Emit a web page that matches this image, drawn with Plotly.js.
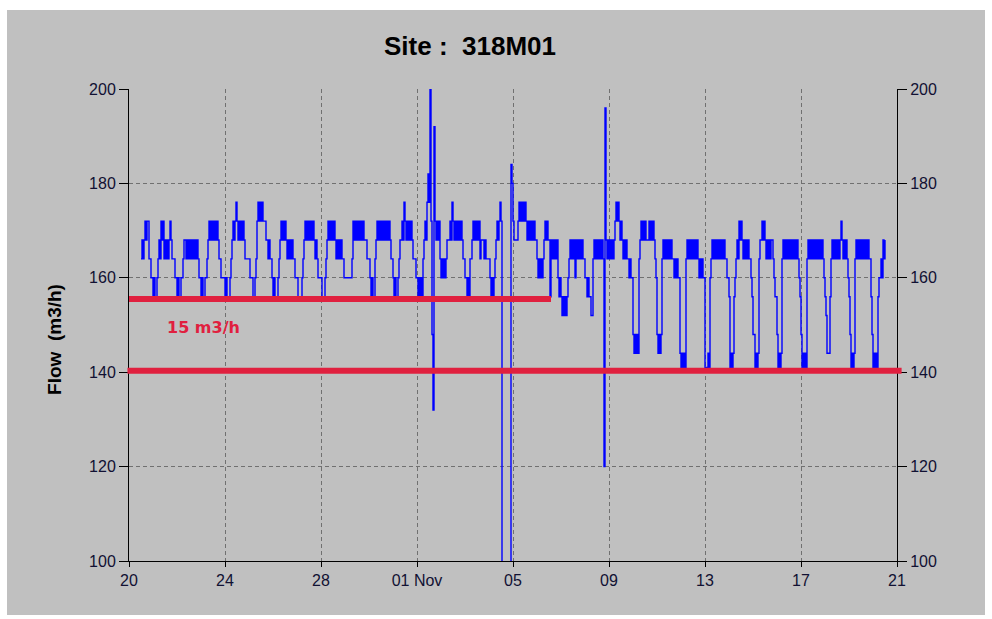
<!DOCTYPE html>
<html><head><meta charset="utf-8">
<script src="https://cdn.plot.ly/plotly-3.0.1.min.js"></script>
<style>
html,body{margin:0;padding:0;background:#fff;width:992px;height:619px;overflow:hidden}
#chart{position:absolute;left:7px;top:10px;width:978px;height:605px}
</style></head><body><div id="chart"></div>
<script>
// hourly flow readings (m3/h), first value at 20 Oct 12:00, one row per day
const seriesStart = '2014-10-20T12:00:00Z';
const flow = [
164,168,164,168,172,168,172,172,164,164,160,160,
156,160,156,156,160,164,168,164,172,168,172,164,168,164,168,164,168,172,168,164,164,164,160,160,
156,160,156,156,160,160,164,168,168,164,168,164,168,164,168,164,168,164,168,164,168,164,160,160,
156,160,156,156,160,160,164,168,172,168,172,168,172,168,172,168,172,168,164,164,160,160,160,160,
156,160,156,156,156,160,164,168,172,168,172,176,172,168,172,168,172,168,172,168,164,164,164,164,
164,160,160,160,156,156,160,164,172,176,172,176,172,176,172,172,172,168,168,164,168,164,164,160,
156,160,156,156,156,160,164,168,172,168,172,168,172,168,164,168,164,168,164,168,164,164,160,160,
160,156,156,156,156,160,164,168,172,168,172,168,172,168,172,168,172,168,164,168,164,160,160,160,
160,156,156,156,160,164,168,172,168,172,168,172,168,172,168,164,168,164,168,164,168,164,164,160,
160,160,160,160,160,160,160,164,172,168,172,168,172,168,172,168,172,168,172,168,168,168,164,164,
164,160,156,160,156,156,164,168,172,168,172,168,172,168,172,168,172,168,172,168,172,168,164,164,
160,156,160,156,156,160,164,168,168,172,168,176,172,168,172,168,172,168,172,168,164,164,164,160,
160,156,160,156,160,156,164,168,172,168,176,182,176,204,172,148,132,192,172,168,172,168,172,164,
160,164,160,164,160,164,168,168,168,172,168,176,172,168,172,168,172,168,172,168,172,168,164,164,
160,160,156,160,156,164,164,168,172,168,172,168,172,168,172,164,168,168,168,164,168,164,164,164,
164,160,156,160,156,160,164,168,172,168,172,176,172,0,0,0,0,0,0,0,0,0,184,180,
172,168,168,168,168,172,176,172,176,172,176,172,176,172,168,172,168,172,168,172,168,172,168,168,
164,160,164,160,164,160,164,168,172,168,172,168,168,156,168,164,168,164,168,164,168,160,156,160,
156,152,156,152,156,152,156,160,164,168,164,168,164,168,160,168,164,168,164,168,164,168,164,164,
160,160,156,160,156,156,152,152,164,168,164,168,164,168,164,168,164,168,164,120,196,168,164,168,
164,168,164,168,164,168,172,176,172,176,172,168,172,168,164,168,164,168,164,164,160,164,160,160,
148,144,148,144,148,144,164,168,172,168,172,168,172,168,168,168,172,168,172,168,172,168,164,160,
148,144,148,144,148,164,168,164,168,164,168,164,168,164,168,164,164,160,164,160,164,160,160,144,
141,144,141,144,141,164,168,164,168,164,168,164,168,164,168,164,168,164,160,164,160,164,160,160,
141,141,141,144,141,160,164,168,164,168,164,168,164,168,164,168,164,168,164,168,164,164,160,160,
156,141,144,141,144,156,160,164,168,164,172,168,172,168,164,168,164,168,164,168,164,164,160,156,
148,148,141,144,141,144,164,168,168,172,168,172,168,164,168,164,168,164,168,168,164,160,156,156,
148,141,144,141,144,164,168,164,168,164,168,164,168,164,168,164,168,164,168,164,168,164,160,156,
148,141,144,141,144,141,164,168,164,168,164,168,164,168,164,168,164,168,164,168,164,168,164,160,
156,152,144,144,144,156,164,168,164,168,164,168,164,168,164,168,172,168,164,168,164,168,164,160,
156,148,141,144,141,144,164,168,164,168,164,168,164,168,164,168,164,168,164,168,164,164,156,148,
141,144,141,144,141,156,160,160,164,160,168,164,168
];
const axisStart = '2014-10-20';
const axisEnd = '2014-11-21';
const tickDates = ['2014-10-20','2014-10-24','2014-10-28','2014-11-01','2014-11-05','2014-11-09','2014-11-13','2014-11-17','2014-11-21'];
const tickLabels = ['20','24','28','01 Nov','05','09','13','17','21'];
const yTicks = [100,120,140,160,180,200];
const limitLevels = [155.5, 140.3];
const limitEnds = ['2014-11-06 14:00'];
const limitLabel = '15 m3/h';
const limitLabelPos = ['2014-10-21 12:00', 149.5];
const yTitle = 'Flow\u00a0\u00a0(m3/h)';

const t0 = Date.parse(seriesStart);
const times = flow.map((_, i) => new Date(t0 + i * 3600000).toISOString().slice(0, 16).replace('T', ' '));

const red = '#e0203f';
const tickFont = {family: 'Liberation Sans, Arial, sans-serif', size: 16, color: '#111133'};
const grid = {showgrid: true, gridcolor: '#707070', gridwidth: 1, griddash: '4px,3px'};

const traces = [
  {x: times, y: flow, type: 'scatter', mode: 'lines', line: {color: '#0000ff', width: 1.4, shape: 'hv'}, hoverinfo: 'skip', showlegend: false},
  {x: [times[0]], y: [null], yaxis: 'y2', type: 'scatter', mode: 'lines', hoverinfo: 'skip', showlegend: false}
];

const layout = {
  width: 978, height: 605,
  paper_bgcolor: '#c0c0c0', plot_bgcolor: 'rgba(0,0,0,0)',
  margin: {l: 122, r: 88, t: 79, b: 54},
  showlegend: false,
  title: {text: '<b>Site :\u00a0\u00a0318M01</b>', font: {family: 'Liberation Sans, Arial, sans-serif', size: 26, color: '#000'},
          xref: 'container', yref: 'container', x: 0.4734, xanchor: 'center', y: 0.94, yanchor: 'middle'},
  xaxis: Object.assign({type: 'date', range: [axisStart, axisEnd], tickmode: 'array', tickvals: tickDates, ticktext: tickLabels,
          ticks: 'outside', ticklen: 5, tickcolor: '#000', tickwidth: 1, showline: true, linecolor: '#000', linewidth: 1,
          zeroline: false, tickfont: tickFont, fixedrange: true}, grid),
  yaxis: Object.assign({range: [100, 200], tickmode: 'array', tickvals: yTicks, ticks: 'outside', ticklen: 9, tickcolor: '#000',
          showline: true, linecolor: '#000', linewidth: 1, zeroline: false, tickfont: tickFont, fixedrange: true}, grid),
  yaxis2: {overlaying: 'y', side: 'right', range: [100, 200], tickmode: 'array', tickvals: yTicks, ticks: 'outside', ticklen: 9,
          tickcolor: '#000', showline: true, linecolor: '#000', linewidth: 1, showgrid: false, zeroline: false, tickfont: tickFont, fixedrange: true},
  shapes: [
    {type: 'line', xref: 'x', yref: 'y', x0: axisStart, x1: limitEnds[0], y0: limitLevels[0], y1: limitLevels[0], line: {color: red, width: 6}, layer: 'above'},
    {type: 'line', xref: 'paper', yref: 'y', x0: -0.002, x1: 1.006, y0: limitLevels[1], y1: limitLevels[1], line: {color: red, width: 6}, layer: 'above'}
  ],
  annotations: [
    {text: '<b>' + limitLabel + '</b>', x: limitLabelPos[0], y: limitLabelPos[1], xref: 'x', yref: 'y', xanchor: 'left', yanchor: 'middle',
     showarrow: false, font: {family: 'DejaVu Sans, Verdana, sans-serif', size: 16, color: red}},
    {text: '<b>' + yTitle + '</b>', xref: 'paper', yref: 'paper', x: -0.098, y: 0.47, xanchor: 'center', yanchor: 'middle',
     textangle: -90, showarrow: false, font: {family: 'Liberation Sans, Arial, sans-serif', size: 19, color: '#000'}}
  ]
};

Plotly.newPlot('chart', traces, layout, {displayModeBar: false, staticPlot: true});
</script></body></html>
